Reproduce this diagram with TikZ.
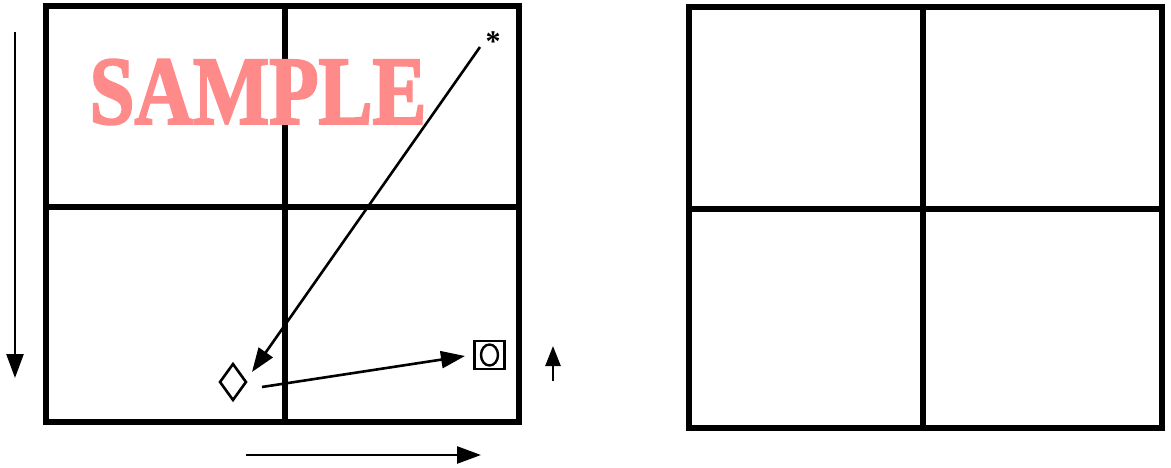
\documentclass[tikz,border=0pt]{standalone}
\usepackage{fontspec}
\setmainfont{Liberation Serif}
\newfontfamily\samplefont[FakeBold=2.5]{Liberation Serif Bold}
\usetikzlibrary{arrows.meta,shapes.geometric}
\definecolor{samplepink}{RGB}{255,138,138}
\tikzset{
  gridline/.style={line width=5.5pt, line cap=rect},
  arr/.style={line width=2.6pt, -{Triangle[length=24pt,width=17pt]}},
  smallarr/.style={line width=2.6pt, -{Triangle[length=20pt,width=15pt]}},
}
\begin{document}
\begin{tikzpicture}[x=1pt,y=-1pt]
\useasboundingbox[fill=white] (0,0) rectangle (1171,468);
% left grid
\draw[gridline] (46,6) rectangle (519,422);
\draw[gridline] (285,6) -- (285,422);
\draw[gridline] (46,207) -- (519,207);
% right grid
\draw[gridline] (689,7) rectangle (1162,428);
\draw[gridline] (923,7) -- (923,428);
\draw[gridline] (689,209) -- (1162,209);
% watermark
\node[text=samplepink, font=\samplefont\fontsize{94}{94}\selectfont, xscale=0.86, yscale=1.03, inner sep=0] (sample) at (258,92) {SAMPLE};
% markers
\node[inner sep=0, font=\bfseries\fontsize{30}{30}\selectfont] (star) at (493,42) {*};
\node[draw, diamond, line width=2.6pt, minimum width=27pt, minimum height=37pt, inner sep=0, aspect=0.73] (dia) at (233,382) {};
\node[draw, line width=2.4pt, minimum width=30pt, minimum height=28pt, inner sep=0] (box) at (489.5,355) {};
\node[draw, ellipse, line width=2.4pt, minimum width=17pt, minimum height=21pt, inner sep=0] (oh) at (489.5,355) {};
% arrows
\coordinate (a1s) at (480,47);
\coordinate (a1e) at (252,372);
\draw[arr] (a1s) -- (a1e);
\coordinate (a2s) at (262,387);
\coordinate (a2e) at (465,356);
\draw[arr] (a2s) -- (a2e);
\coordinate (ls) at (15,32);
\coordinate (le) at (15,378);
\draw[arr] (ls) -- (le);
\coordinate (bs) at (246,455);
\coordinate (be) at (481,455);
\draw[arr] (bs) -- (be);
\coordinate (us) at (553,381);
\coordinate (ue) at (553,346);
\draw[smallarr] (us) -- (ue);
\end{tikzpicture}
\end{document}
